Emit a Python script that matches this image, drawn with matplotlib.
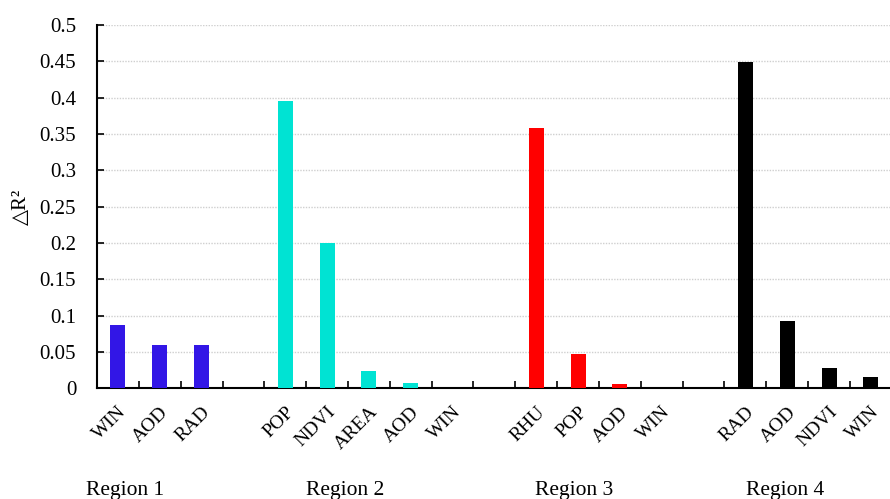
import matplotlib
matplotlib.use("Agg")
import matplotlib.pyplot as plt
from matplotlib.ticker import FuncFormatter, MultipleLocator

plt.rcParams["font.family"] = ["Liberation Serif", "DejaVu Serif"]

# ---------------------------------------------------------------------------
# Data: variable contribution (delta R^2) per region
# ---------------------------------------------------------------------------
region1_vars = ["WIN", "AOD", "RAD"]
region1_vals = [0.087, 0.060, 0.059]

region2_vars = ["POP", "NDVI", "AREA", "AOD", "WIN"]
region2_vals = [0.396, 0.200, 0.024, 0.007, 0.0]

region3_vars = ["RHU", "POP", "AOD", "WIN"]
region3_vals = [0.358, 0.047, 0.006, 0.0]

region4_vars = ["RAD", "AOD", "NDVI", "WIN"]
region4_vals = [0.449, 0.093, 0.028, 0.016]

region_names = ["Region 1", "Region 2", "Region 3", "Region 4"]
region_colors = ["#3216E6", "#00E3D3", "#FF0000", "#000000"]

groups = [
    (region1_vars, region1_vals),
    (region2_vars, region2_vals),
    (region3_vars, region3_vals),
    (region4_vars, region4_vals),
]

# ---------------------------------------------------------------------------
# Figure
# ---------------------------------------------------------------------------
fig = plt.figure(figsize=(8.9, 4.99), dpi=100)
ax = fig.add_axes([0.109, 0.222, 0.893, 0.728])

pos = 0
tick_pos, tick_lab = [], []
for (names, vals), color in zip(groups, region_colors):
    xs = list(range(pos, pos + len(names)))
    ax.bar(xs, vals, width=0.36, color=color, zorder=3)
    tick_pos += xs
    tick_lab += names
    pos += len(names) + 1

ax.set_xlim(-0.5, pos - 1.5)
ax.set_ylim(0, 0.5)

# category labels, no tick marks at bar centres
ax.set_xticks(tick_pos)
ax.set_xticklabels(tick_lab, rotation=45, ha="right", rotation_mode="anchor",
                   fontsize=14)
ax.tick_params(axis="x", length=0, pad=11)

# small inward separators between slots
ax.set_xticks([i + 0.5 for i in range(pos - 2)], minor=True)
ax.tick_params(axis="x", which="minor", direction="in", length=5,
               width=1.2, color="black")

ax.yaxis.set_major_locator(MultipleLocator(0.05))
ax.yaxis.set_major_formatter(FuncFormatter(lambda v, _: f"{v:.2f}".rstrip("0").rstrip(".") if v else "0"))
ax.tick_params(axis="y", direction="in", length=5, width=1.2, labelsize=15, pad=15)

ax.grid(axis="y", linestyle=(0, (1, 1)), color="#cfcfcf", linewidth=1.0, zorder=0)

for side in ("top", "right"):
    ax.spines[side].set_visible(False)
for side in ("left", "bottom"):
    ax.spines[side].set_linewidth(1.5)

ax.set_ylabel("△R²", fontsize=15, labelpad=6)

# region names under each group
region_x = [0.17, 5.43, 10.9, 15.96]
for x, name in zip(region_x, region_names):
    ax.text(x, -0.141, name, transform=ax.transData, ha="center", va="center",
            fontsize=15.5, clip_on=False)

fig.savefig("out.png", dpi=100)
